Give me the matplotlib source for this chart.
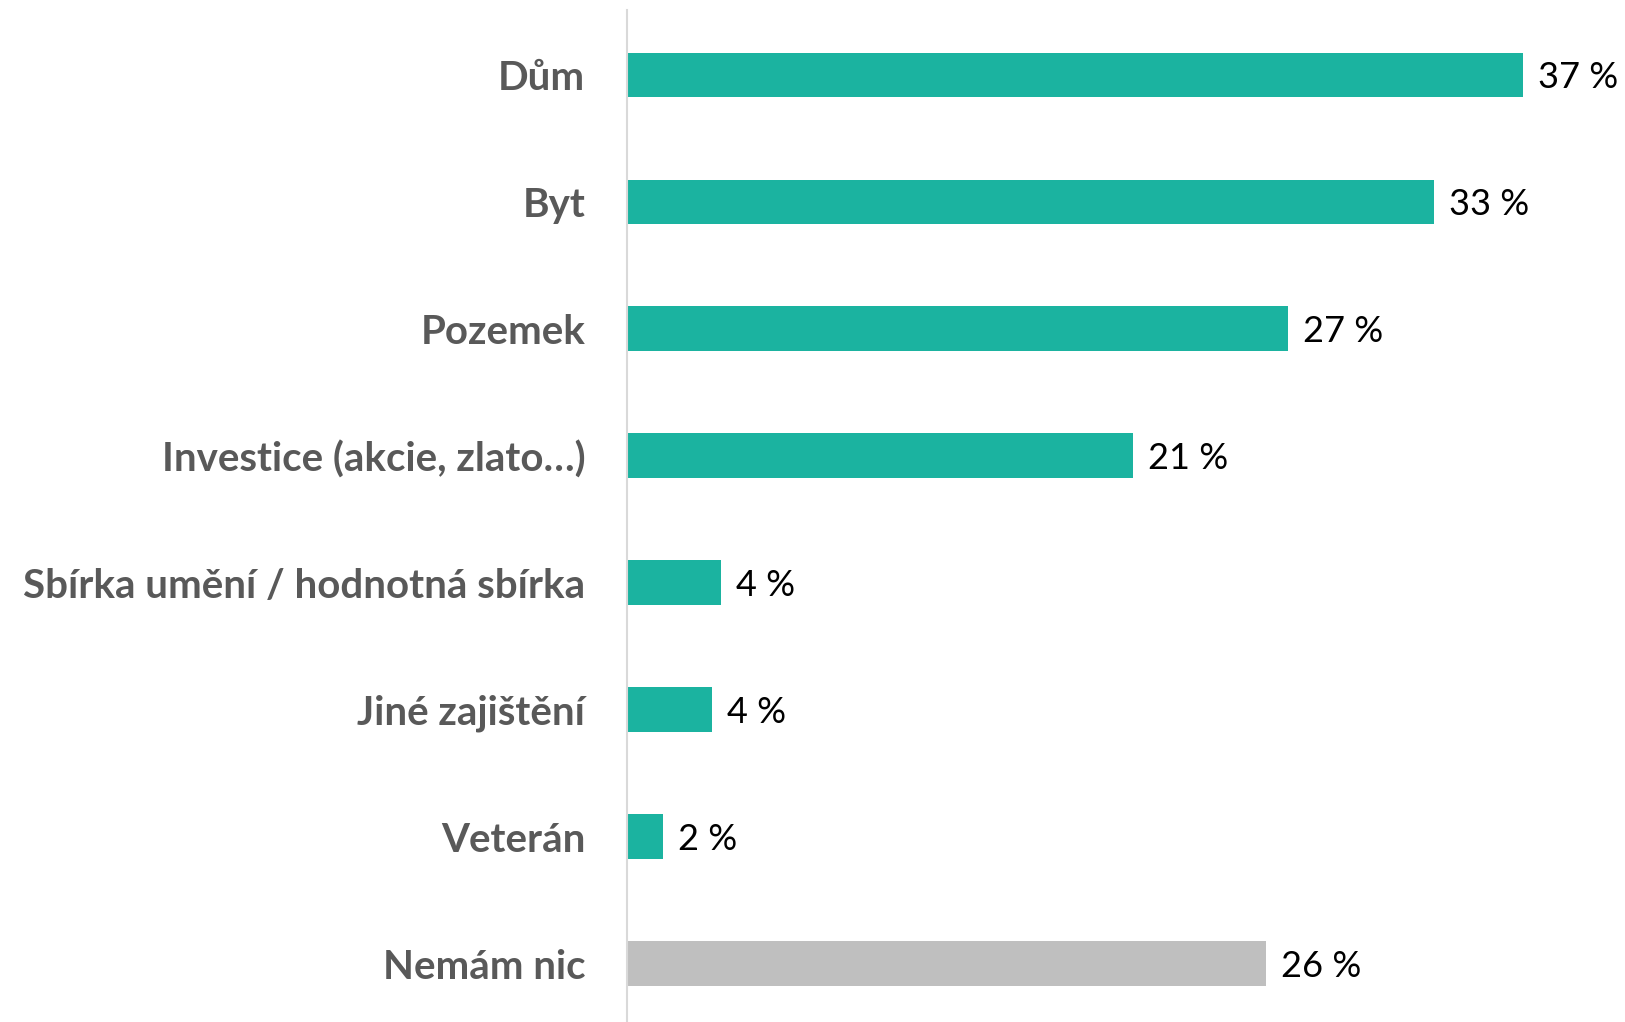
import matplotlib
matplotlib.use("Agg")
import matplotlib.pyplot as plt

categories = ["Dům", "Byt", "Pozemek", "Investice (akcie, zlato…)",
              "Sbírka umění / hodnotná sbírka", "Jiné zajištění", "Veterán", "Nemám nic"]
values = [37.0, 33.3, 27.3, 20.9, 3.9, 3.5, 1.5, 26.4]
value_labels = ["37 %", "33 %", "27 %", "21 %", "4 %", "4 %", "2 %", "26 %"]
colors = ["#1BB3A0"] * 7 + ["#BFBFBF"]

W, H = 1625, 1022
fig = plt.figure(figsize=(W / 100, H / 100), dpi=100)
ax = fig.add_axes([627 / W, 0, 1 - 627 / W, (H - 10) / H])

y = list(range(len(categories)))
ax.barh(y, values, height=0.35, color=colors)
ax.set_ylim(7.46, -0.51)
ax.set_xlim(0, 41.2)

for spine in ["top", "right", "bottom"]:
    ax.spines[spine].set_visible(False)
ax.spines["left"].set_color("#D9D9D9")
ax.spines["left"].set_linewidth(1.5)
ax.set_xticks([])
ax.set_yticks(y)
ax.set_yticklabels(categories, fontsize=29, fontweight="bold", color="#595959",
                   family=["Lato", "DejaVu Sans"])
ax.tick_params(axis="y", length=0, pad=30)

for yi, v, lab in zip(y, values, value_labels):
    ax.annotate(lab, xy=(v, yi), xytext=(15, -3), textcoords="offset pixels",
                ha="left", va="center", fontsize=26, color="#000000",
                family=["Lato", "DejaVu Sans"])

fig.savefig("out.png", dpi=100)
